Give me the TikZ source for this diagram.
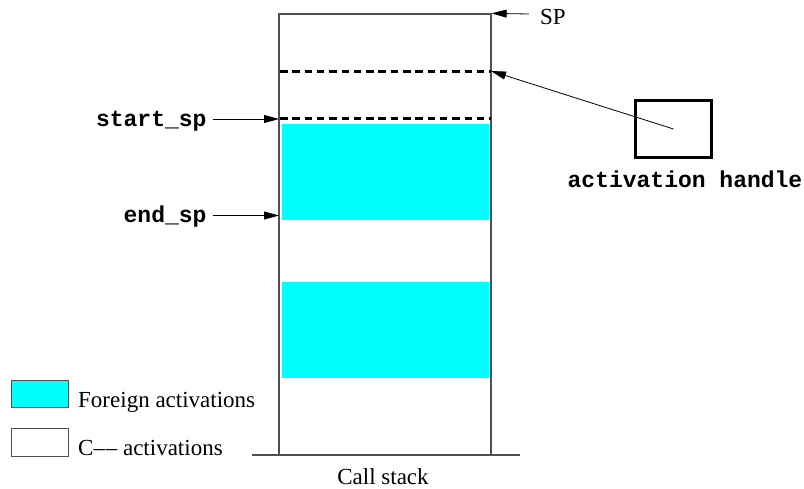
\documentclass[tikz,border=0pt]{standalone}
\usepackage{fontspec}
\setmainfont{Liberation Serif}
\setmonofont{Liberation Mono}
\usetikzlibrary{arrows.meta}
\definecolor{frgn}{HTML}{00FFFF}
\definecolor{boxgray}{HTML}{505050}
\begin{document}
\begin{tikzpicture}[x=1pt,y=-1pt,
  lbl/.style={font=\fontsize{23}{27}\selectfont, inner sep=0pt},
  codelbl/.style={font=\fontsize{23}{27}\selectfont\ttfamily\bfseries, inner sep=0pt},
  ptr/.style={-{Triangle[length=15pt,width=8pt]}, line width=0.8pt, shorten <=6pt},
  dashline/.style={line width=3pt, dash pattern=on 7.5pt off 4.8pt},
  frame/.style={draw=boxgray, line width=1.3pt}]
\useasboundingbox (0,0) rectangle (804,488);
% foreign activation blocks
\fill[frgn] (282,124) rectangle (489,220);
\fill[frgn] (282,282) rectangle (489,378);
% call stack
\node[frame, minimum width=212pt, minimum height=441pt, inner sep=0pt] (stack) at (385,234.5) {};
\draw[line width=1.3pt, draw=boxgray] (252,455) -- (520,455);
\node[lbl, anchor=base] (callstack) at (383,484) {Call stack};
% dashed lines
\coordinate (d1l) at (280,71); \coordinate (d1r) at (491,71);
\coordinate (d2l) at (280,118.5); \coordinate (d2r) at (491,118.5);
\draw[dashline] (d1l) -- (d1r);
\draw[dashline] (d2l) -- (d2r);
% SP
\node[lbl, anchor=base west] (sp) at (540,24) {SP};
\coordinate (spw) at (529,14);
\draw[ptr, shorten <=0pt] (spw) -- (stack.north east);
% start_sp / end_sp
\node[codelbl, anchor=base east] (startsp) at (206.7,126) {start\_sp};
\coordinate (startsptip) at (279,119);
\draw[ptr] (startsp.east |- startsptip) -- (startsptip);
\node[codelbl, anchor=base east] (endsp) at (206.7,222) {end\_sp};
\coordinate (endsptip) at (279,215.5);
\draw[ptr] (endsp.east |- endsptip) -- (endsptip);
% activation handle
\node[draw, line width=3pt, minimum width=76pt, minimum height=57pt, inner sep=0pt] (handle) at (673.5,129) {};
\node[codelbl, anchor=base] (handlelbl) at (685,187) {activation handle};
\draw[ptr, shorten <=0pt] (handle.center) -- (d1r);
% legend
\node[draw=boxgray, line width=1pt, fill=frgn, minimum width=57pt, minimum height=27pt, inner sep=0pt] (legf) at (39.5,393.5) {};
\node[lbl, anchor=base west] (legftxt) at (78,407) {Foreign activations};
\node[draw=boxgray, line width=1pt, fill=white, minimum width=57pt, minimum height=28pt, inner sep=0pt] (legc) at (39.5,442) {};
\node[lbl, anchor=base west] (legctxt) at (78,455) {C\textendash\kern0.8pt\textendash{} activations};
\end{tikzpicture}
\end{document}
